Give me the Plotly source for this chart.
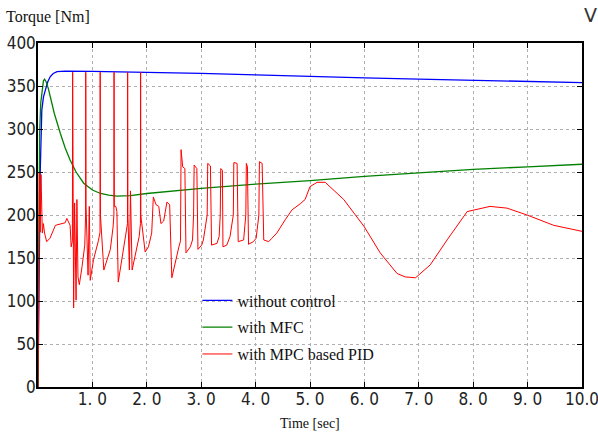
import plotly.graph_objects as go

# ---- data ----
t_blue = [0, 0.02, 0.04, 0.07, 0.1, 0.134, 0.18, 0.226, 0.28, 0.35, 0.5, 1, 2, 3, 4, 5, 6, 7, 8, 9, 10]
v_blue = [0, 150, 248, 322, 337, 345, 355, 361, 364.5, 366.6, 367.3, 367, 366, 364.6, 363, 361, 359.5, 358, 356.5, 355.2, 354]

t_green = [0, 0.01, 0.03, 0.05, 0.073, 0.1, 0.12, 0.15, 0.19, 0.226, 0.3, 0.41, 0.5, 0.59, 0.7, 0.84, 1.0,
           1.15, 1.3, 1.45, 1.7, 2, 3, 4, 5, 6, 7, 8, 9, 10]
v_green = [0, 150, 295, 330, 345, 356, 358, 355, 347, 337.6, 318, 295, 278, 264, 250, 237, 229,
           225, 223, 222, 222.5, 225, 231, 236, 240, 245, 249, 253, 256, 259]

t_red = [0, 0.01, 0.02, 0.025, 0.04, 0.055, 0.08, 0.1, 0.12, 0.16, 0.22, 0.32, 0.50, 0.53, 0.59, 0.61,
         0.632, 0.637, 0.655, 0.673, 0.70, 0.715, 0.735, 0.76, 0.81, 0.86, 0.875, 0.878, 0.883,
         0.92, 0.943, 0.96, 1.02, 1.11, 1.14, 1.143, 1.148, 1.21, 1.33, 1.38, 1.395, 1.398, 1.403, 1.43, 1.45, 1.475,
         1.57, 1.61, 1.645, 1.648, 1.653, 1.68, 1.70, 1.73, 1.86, 1.883, 1.886, 1.891, 1.90, 1.97, 2.03, 2.09, 2.12,
         2.17, 2.22, 2.26, 2.31, 2.37, 2.42, 2.46, 2.59, 2.62, 2.63, 2.66, 2.70, 2.72, 2.80, 2.84,
         2.86, 2.87, 2.92, 2.94, 3.01, 3.04, 3.11, 3.12, 3.17, 3.19, 3.29, 3.33, 3.35, 3.36, 3.39, 3.40,
         3.47, 3.53, 3.59, 3.60, 3.66, 3.68, 3.78, 3.82, 3.83, 3.85, 3.87, 3.96, 4.01, 4.06, 4.07, 4.12,
         4.15, 4.24, 4.30, 4.39, 4.55, 4.67, 4.82, 4.91, 5.0, 5.13, 5.28, 5.62, 5.99, 6.29, 6.6, 6.75,
         6.94, 7.21, 7.52, 7.89, 8.31, 8.62, 8.99, 9.48, 10.0]
v_red = [0, 150, 200, 249, 180, 247, 179, 190, 179, 169, 173, 188, 191, 196, 188, 163,
         170, 366, 92, 214, 101, 218, 128, 119, 140, 165, 200, 366, 210,
         130, 210, 124, 148, 170, 180, 366, 200, 136, 160, 186, 200, 366, 210, 210, 204, 122,
         160, 177, 190, 366, 200, 136, 228, 136, 175, 190, 366, 200, 194, 157, 163, 179, 221,
         212, 210, 190, 193, 215, 212, 127, 163, 170, 276, 256, 254, 156, 163, 171,
         200, 258, 254, 160, 165, 171, 200, 260, 257, 165, 167, 175, 200, 254, 252, 163,
         165, 175, 200, 261, 260, 169, 171, 200, 260, 256, 166, 169, 173, 200, 262, 260,
         171, 169, 173, 179, 195, 206, 213, 218, 233, 238, 238, 218, 187, 156, 132, 128,
         127, 142, 171, 204, 210, 208, 200, 188, 181]

x_tickvals = [1, 2, 3, 4, 5, 6, 7, 8, 9, 10]
x_ticktext = ["1. 0", "2. 0", "3. 0", "4. 0", "5. 0", "6. 0", "7. 0", "8. 0", "9. 0", "10.0"]
y_tickvals = [0, 50, 100, 150, 200, 250, 300, 350, 400]

names = ["without control", "with MFC", "with MPC based PID"]

serif = "Liberation Serif, Times New Roman, serif"
narrow = "Liberation Sans Narrow, DejaVu Sans Condensed, sans-serif"

fig = go.Figure()
fig.add_trace(go.Scatter(x=t_blue, y=v_blue, mode="lines", name=names[0], legendgroup="a",
                         line=dict(color="#0000ff", width=1.3)))
fig.add_trace(go.Scatter(x=t_green, y=v_green, mode="lines", name=names[1], legendgroup="b",
                         line=dict(color="#008000", width=1.3)))
fig.add_trace(go.Scatter(x=t_red, y=v_red, mode="lines", name=names[2], legendgroup="c",
                         line=dict(color="#ff0000", width=1)))

axis_common = dict(showline=True, linecolor="black", linewidth=1.5, mirror="ticks",
                   ticks="inside", ticklen=5, tickcolor="black", automargin=False,
                   showgrid=True, gridcolor="#b0b0b0", griddash="dot", gridwidth=1,
                   zeroline=False, ticklabeloverflow="allow",
                   tickfont=dict(family=narrow, size=17, color="#222"))

fig.update_xaxes(range=[0, 10], tickvals=x_tickvals, ticktext=x_ticktext,
                 ticklabelstandoff=-4, **axis_common)
fig.update_yaxes(range=[0, 400], tickvals=y_tickvals, ticklabelstandoff=-3, **axis_common)

fig.update_layout(
    width=598, height=435,
    margin=dict(l=38, r=16, t=43, b=48),
    paper_bgcolor="white", plot_bgcolor="white",
    showlegend=True,
    legend=dict(x=0.293, y=0.301, xanchor="left", yanchor="top",
                bgcolor="rgba(0,0,0,0)", font=dict(family=serif, size=16, color="#111"),
                tracegroupgap=3),
    annotations=[
        dict(text="Torque [Nm]", xref="paper", yref="paper", x=-0.062, y=1.077,
             xanchor="left", yanchor="middle", showarrow=False,
             font=dict(family=serif, size=16, color="#111")),
        dict(text="Time [sec]", xref="paper", yref="paper", x=0.5, y=-0.105,
             xanchor="center", yanchor="middle", showarrow=False,
             font=dict(family=serif, size=14, color="#111")),
        dict(text="V", xref="paper", yref="paper", x=1.0, y=1.08,
             xanchor="left", yanchor="middle", showarrow=False,
             font=dict(family="DejaVu Sans", size=19, color="#333")),
    ],
)

fig.write_html("out.html", config={"displayModeBar": False},
               post_script="document.body.style.margin='0';document.body.style.overflow='hidden';")
